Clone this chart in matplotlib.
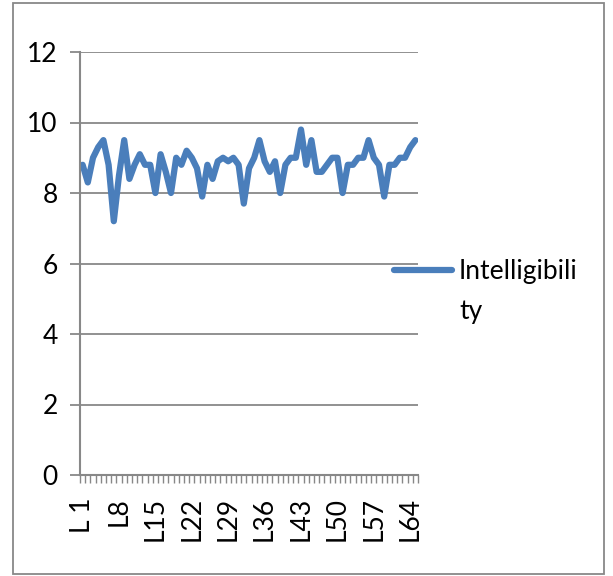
import numpy as np
import matplotlib
matplotlib.use("Agg")
import matplotlib.pyplot as plt
from matplotlib.patches import Rectangle

plt.rcParams["font.family"] = ["Lato", "DejaVu Sans"]

# Intelligibility score per line L1..L65
labels = ["L 1"] + [f"L{i}" for i in range(2, 66)]
intelligibility = [
    8.8, 8.3, 9.0, 9.3, 9.5, 8.8, 7.2, 8.5, 9.5, 8.4,
    8.8, 9.1, 8.8, 8.8, 8.0, 9.1, 8.6, 8.0, 9.0, 8.8,
    9.2, 9.0, 8.7, 7.9, 8.8, 8.4, 8.9, 9.0, 8.9, 9.0,
    8.8, 7.7, 8.7, 9.0, 9.5, 8.9, 8.6, 8.9, 8.0, 8.8,
    9.0, 9.0, 9.8, 8.8, 9.5, 8.6, 8.6, 8.8, 9.0, 9.0,
    8.0, 8.8, 8.8, 9.0, 9.0, 9.5, 9.0, 8.8, 7.9, 8.8,
    8.8, 9.0, 9.0, 9.3, 9.5,
]
yticks = [0, 2, 4, 6, 8, 10, 12]

W, H = 613, 576
fs = 19
fig = plt.figure(figsize=(W / 100, H / 100), dpi=100)
ax = fig.add_axes([80 / W, 1 - 475 / H, 338 / W, 423 / H])

grey = "#888888"
blue = "#4A7EBB"

x = np.arange(len(intelligibility))
line, = ax.plot(x, intelligibility, color=blue, lw=4.5,
                solid_joinstyle="round", solid_capstyle="round",
                label="Intelligibili")

ax.set_xlim(-0.5, len(x) - 0.5)
ax.set_ylim(0, 12)
ax.set_yticks(yticks)
ax.set_yticklabels([str(v) for v in yticks])
ax.grid(axis="y", color=grey, lw=1.3)
ax.set_axisbelow(True)

# category labels every 7th line, tick marks on every boundary
ax.set_xticks(x[::7])
ax.set_xticklabels(labels[::7], rotation=90)
ax.set_xticks(np.arange(-0.5, len(x)), minor=True)
ax.tick_params(axis="x", which="major", length=0, pad=16, labelsize=fs)
ax.tick_params(axis="x", which="minor", length=6, width=1, color=grey,
               direction="out")
ax.tick_params(axis="y", length=7, width=1.3, color=grey, pad=9,
               labelsize=fs)

for side in ("top", "right"):
    ax.spines[side].set_visible(False)
for side in ("left", "bottom"):
    ax.spines[side].set_color(grey)
    ax.spines[side].set_linewidth(1.5)

leg = ax.legend(handles=[line], loc="upper left",
                bbox_to_anchor=(394 / W, 1 - 259 / H),
                bbox_transform=fig.transFigure, frameon=False,
                fontsize=fs, handlelength=2.2, handletextpad=0.25,
                borderpad=0, borderaxespad=0)
fig.text(459 / W, 1 - 311 / H, "ty", fontsize=fs, va="center", ha="left")

# outer chart border
fig.patches.append(Rectangle((13 / W, 1 - 574 / H), 591 / W, 571 / H,
                             transform=fig.transFigure, fill=False,
                             edgecolor=grey, lw=1.3))

fig.savefig("out.png", dpi=100)
